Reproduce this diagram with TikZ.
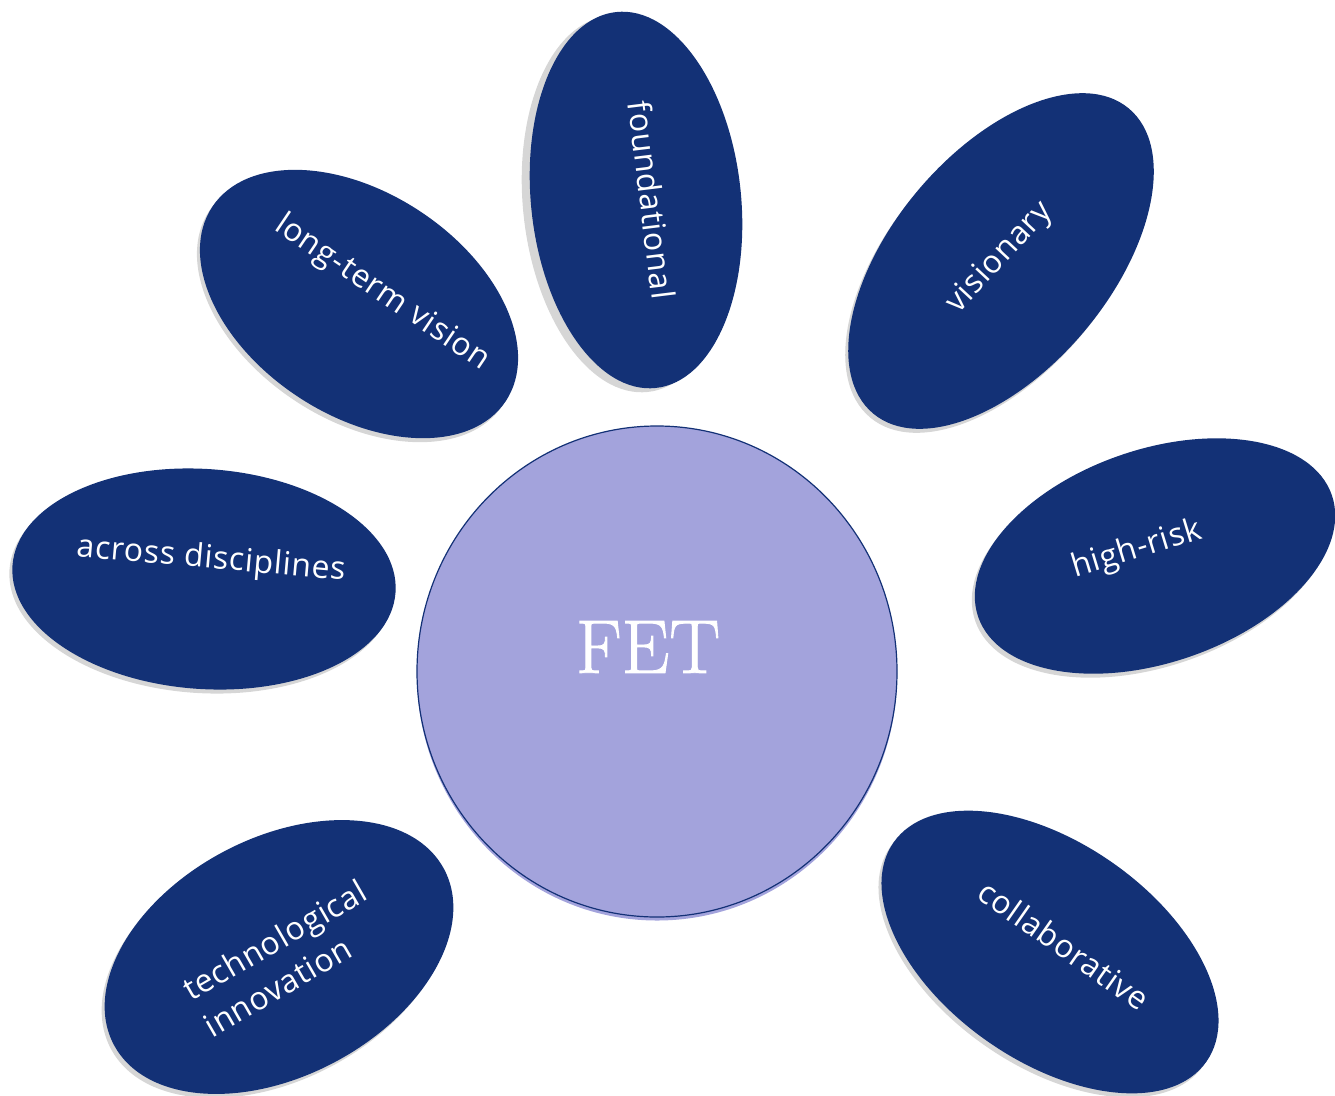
\documentclass[tikz,border=0pt]{standalone}
\usepackage{fontspec}
\setsansfont{Open Sans}[LetterSpace=2.2]
\newfontfamily\fetfont{Latin Modern Roman}[FakeBold=1.2]
\usetikzlibrary{shapes.geometric}
\definecolor{navy}{RGB}{19,49,118}
\definecolor{lilac}{RGB}{163,163,220}
\begin{document}
\begin{tikzpicture}[x=1pt,y=-1pt,
  petal/.style={ellipse, fill=navy, draw=none, inner sep=0pt, outer sep=0pt},
  pshadow/.style={ellipse, fill=black, opacity=0.16, draw=none, inner sep=0pt, outer sep=0pt, xshift=-3pt, yshift=-4pt},
  lbl/.style={text=white, font=\sffamily\fontsize{32}{42}\selectfont, inner sep=0pt},
]
\useasboundingbox (0,0) rectangle (1335,1095);
\fill[white] (0,0) rectangle (1335,1095);

% shadows
\node[pshadow, xshift=-5pt, minimum width=378pt, minimum height=210pt, rotate=96] (s1) at (636,200) {};
\node[pshadow, minimum width=352pt, minimum height=222pt, rotate=-33.5] (s2) at (359,304) {};
\node[pshadow, minimum width=398pt, minimum height=218pt, rotate=50] (s3) at (1001,261) {};
\node[pshadow, minimum width=374pt, minimum height=213pt, rotate=19] (s4) at (1155,556) {};
\node[pshadow, minimum width=384pt, minimum height=220pt, rotate=-4] (s5) at (204,579) {};
\node[pshadow, minimum width=374pt, minimum height=238pt, rotate=28] (s6) at (279,957) {};
\node[pshadow, minimum width=382pt, minimum height=218pt, rotate=-35] (s7) at (1050,952) {};

% petals
\node[petal, minimum width=378pt, minimum height=210pt, rotate=96] (found) at (636,200) {};
\node[petal, minimum width=352pt, minimum height=222pt, rotate=-33.5] (long) at (359,304) {};
\node[petal, minimum width=398pt, minimum height=218pt, rotate=50] (vis) at (1001,261) {};
\node[petal, minimum width=374pt, minimum height=213pt, rotate=19] (high) at (1155,556) {};
\node[petal, minimum width=384pt, minimum height=220pt, rotate=-4] (across) at (204,579) {};
\node[petal, minimum width=374pt, minimum height=238pt, rotate=28] (tech) at (279,957) {};
\node[petal, minimum width=382pt, minimum height=218pt, rotate=-35] (collab) at (1050,952) {};

% labels
\node[lbl, rotate=-83] (tfound) at (652,200) {foundational};
\node[lbl, rotate=-34] (tlong) at (382,293) {long-term vision};
\node[lbl, rotate=47] (tvis) at (1000,258) {visionary};
\node[lbl, rotate=17] (thigh) at (1137,550) {high-risk};
\node[lbl, rotate=-5] (tacross) at (211,560) {across disciplines};
\node[lbl, rotate=30, align=left] (ttech) at (285,958) {technological\\innovation};
\node[lbl, rotate=-35] (tcollab) at (1064,945) {collaborative};

% centre
\node[ellipse, fill=lilac, draw=none, minimum width=480pt, minimum height=491pt, inner sep=0pt] (fetsh) at (657,675) {};
\node[ellipse, fill=lilac, draw=navy, line width=1.2pt, minimum width=480pt, minimum height=491pt, inner sep=0pt] (fet) at (657,671.5) {};
\node[text=white, font=\fetfont\fontsize{76}{80}\selectfont, inner sep=0pt] (tfet) at (648,647) {FET};
\end{tikzpicture}
\end{document}
